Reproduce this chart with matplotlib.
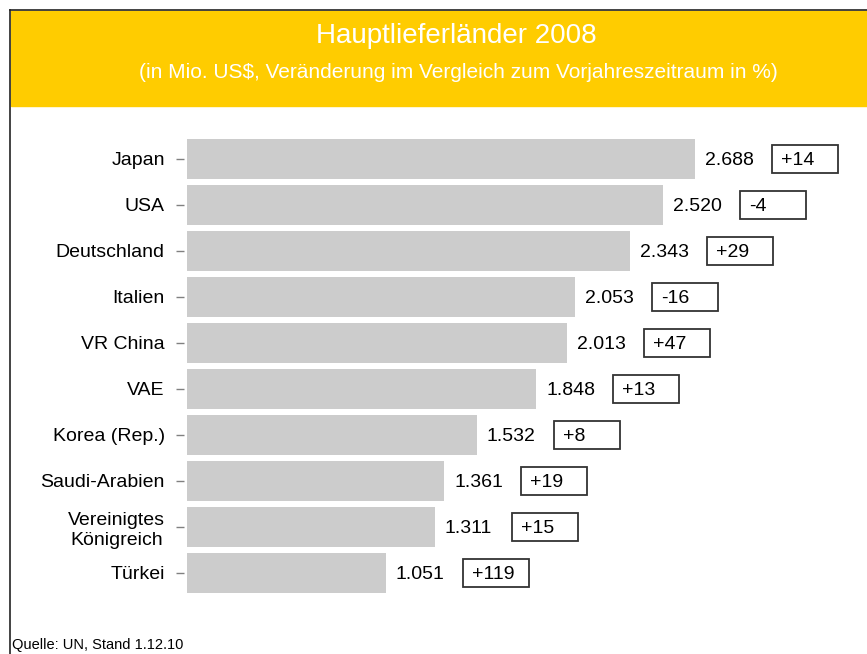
import matplotlib
matplotlib.use("Agg")
import matplotlib.pyplot as plt
from matplotlib.patches import Rectangle
from matplotlib.lines import Line2D

plt.rcParams["font.family"] = ["Liberation Sans", "DejaVu Sans"]

# Daten
laender = ["Japan", "USA", "Deutschland", "Italien", "VR China", "VAE", "Korea (Rep.)",
           "Saudi-Arabien", "Vereinigtes\nKönigreich", "Türkei"]
werte = [2688, 2520, 2343, 2053, 2013, 1848, 1532, 1361, 1311, 1051]   # Mio. US$
veraenderung = ["+14", "-4", "+29", "-16", "+47", "+13", "+8", "+19", "+15", "+119"]  # %

GELB = "#FFCC00"; GRAU = "#CCCCCC"; RAND = "#333333"
W, H = 867, 654

fig = plt.figure(figsize=(W / 100, H / 100), dpi=100)
fig.patch.set_facecolor("white")

# Kopfzeile
fig.patches.append(Rectangle((11 / W, 1 - 106 / H), 1 - 11 / W, 95 / H,
                             transform=fig.transFigure, color=GELB, zorder=0))
fig.lines.append(Line2D([10 / W, 1], [1 - 10 / H, 1 - 10 / H], transform=fig.transFigure,
                        color="#222222", lw=1.2))
fig.lines.append(Line2D([10 / W, 10 / W], [1 - 10 / H, 0], transform=fig.transFigure,
                        color="#222222", lw=1.2))
fig.text(0.526, 1 - 36 / H, "Hauptlieferländer 2008", color="white", fontsize=20,
         ha="center", va="center")
fig.text(0.529, 1 - 72 / H, "(in Mio. US$, Veränderung im Vergleich zum Vorjahreszeitraum in %)",
         color="white", fontsize=15, ha="center", va="center")
fig.text(12 / W, 1 - 645 / H, "Quelle: UN, Stand 1.12.10", fontsize=10.5, ha="left", va="center")

# Balken
ax = fig.add_axes([187 / W, 1 - 600 / H, 680 / W, 470 / H])
ax.set_facecolor("none")
y = list(range(len(laender)))
ax.barh(y, werte, height=0.85, color=GRAU)
ax.set_xlim(0, 3598); ax.set_ylim(9.587, -0.63)
xs = 3598 / 680            # Dateneinheiten pro Pixel
ys = (9.587 + 0.63) / 470
for s in ax.spines.values(): s.set_visible(False)
ax.spines["left"].set_position(("outward", 2))
ax.set_xticks([])
ax.set_yticks(y); ax.set_yticklabels(laender, fontsize=14, multialignment="center")
ax.tick_params(axis="y", length=6, width=1, color="#808080", pad=8)

for i, (v, d) in enumerate(zip(werte, veraenderung)):
    ax.text(v + 10 * xs, i, f"{v:,}".replace(",", "."), fontsize=14, va="center_baseline", ha="left")
    bx = v + 77 * xs
    ax.add_patch(Rectangle((bx, i - 14 * ys), 66 * xs, 28 * ys, facecolor="white",
                           edgecolor=RAND, lw=1.3, clip_on=False))
    ax.text(bx + 9 * xs, i, d, fontsize=14, va="center_baseline", ha="left", clip_on=False)

fig.savefig("out.png", dpi=100)
